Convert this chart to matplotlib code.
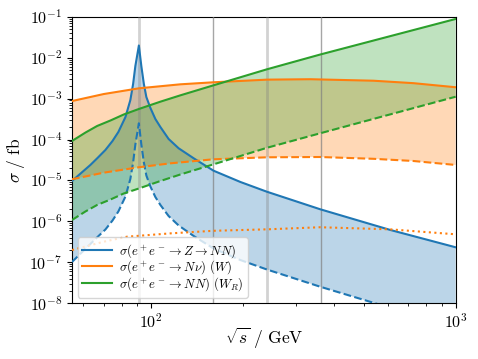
import numpy as np
import matplotlib
matplotlib.use("Agg")
import matplotlib.pyplot as plt
from matplotlib.ticker import FuncFormatter, LogLocator, NullFormatter

plt.rcParams['mathtext.fontset'] = 'cm'
plt.rcParams['font.family'] = ['DejaVu Serif']

# ---- data (sqrt(s) in GeV, sigma in fb) ----
z_up_s = [55, 63.2, 66.7, 70.8, 74.7, 78.1, 82.4, 85.5, 87.3, 88.8, 91.19,
          92.9, 94.7, 96.5, 99.5, 103.3, 107.3, 114.2, 123.2, 138.0, 160.4, 196.3, 240.1, 359, 609, 1000]
z_up_sig = [9.7e-6, 2.39e-5, 3.54e-5, 5.55e-5, 9.2e-5, 1.53e-4, 3.55e-4, 9.2e-4, 2.27e-3, 6.25e-3, 1.98e-2,
            6.25e-3, 2.27e-3, 1.09e-3, 5.89e-4, 3.17e-4, 2.02e-4, 1.03e-4, 6.1e-5, 3.48e-5, 1.73e-5,
            9.2e-6, 5.3e-6, 1.98e-6, 6.2e-7, 2.33e-7]

z_lo_s = [55, 63.2, 66.7, 70.8, 74.7, 78.1, 82.4, 85.5, 87.3, 88.8, 91.19,
          92.9, 94.7, 96.5, 99.5, 103.3, 107.3, 114.2, 123.2, 138.0, 160.4, 196.3, 240.1, 359, 530, 1000]
z_lo_sig = [1.02e-7, 2.81e-7, 4.16e-7, 6.34e-7, 1.05e-6, 1.75e-6, 4.06e-6, 1.09e-5, 2.75e-5, 7.55e-5, 2.49e-4,
            7.55e-5, 2.75e-5, 1.32e-5, 7.1e-6, 3.94e-6, 2.52e-6, 1.35e-6, 7.94e-7, 4.40e-7, 2.18e-7,
            1.14e-7, 6.68e-8, 2.54e-8, 1.06e-8, 2.5e-9]

w_up_s = [55, 69.9, 91.19, 124.8, 160.4, 240.1, 333, 537, 726, 1000]
w_up_sig = [8.7e-4, 1.29e-3, 1.78e-3, 2.23e-3, 2.50e-3, 2.90e-3, 2.97e-3, 2.73e-3, 2.38e-3, 1.89e-3]

w_lo_s = [55, 69.9, 91.19, 115.7, 160.4, 240.1, 359, 537, 726, 1000]
w_lo_sig = [1.07e-5, 1.55e-5, 2.1e-5, 2.62e-5, 3.29e-5, 3.68e-5, 3.74e-5, 3.38e-5, 2.99e-5, 2.39e-5]

w_dot_s = [55, 69.9, 83.4, 115.7, 160.4, 240.1, 359, 609, 1000]
w_dot_sig = [2.0e-7, 3.19e-7, 4.23e-7, 5.1e-7, 5.9e-7, 6.4e-7, 7.2e-7, 6.4e-7, 4.84e-7]

wr_up_s = [55, 60.9, 66.5, 73.6, 81.3, 91.19, 107.3, 124.8, 160.4, 240.1, 359, 1000]
wr_up_sig = [9.2e-5, 1.48e-4, 2.14e-4, 2.92e-4, 4.08e-4, 5.57e-4, 8.4e-4, 1.20e-3, 2.11e-3,
             5.19e-3, 1.19e-2, 8.8e-2]

wr_lo_s = [55, 60.9, 66.5, 73.6, 81.3, 91.19, 107.3, 124.8, 160.4, 240.1, 359, 1000]
wr_lo_sig = [1.08e-6, 1.75e-6, 2.52e-6, 3.43e-6, 4.80e-6, 6.37e-6, 9.7e-6, 1.40e-5, 2.48e-5,
             6.28e-5, 1.42e-4, 1.11e-3]

vlines_light = [91.19, 240]
vlines_dark = [160, 360]

labels = [r'$\sigma(e^+e^- \to Z \to NN)$',
          r'$\sigma(e^+e^- \to N\nu)\ (W)$',
          r'$\sigma(e^+e^- \to NN)\ (W_R)$']

# ---- plot ----
fig = plt.figure(figsize=(4.78, 3.59), dpi=100)
ax = fig.add_axes([0.1506, 0.1552, 0.8027, 0.7983])
ax.set_xscale('log')
ax.set_yscale('log')

for v in vlines_light:
    ax.axvline(v, color='gray', alpha=0.35, lw=2, zorder=3)
for v in vlines_dark:
    ax.axvline(v, color='gray', alpha=0.7, lw=1, zorder=3)

cols = ['#1f77b4', '#ff7f0e', '#2ca02c']
series = [(z_up_s, z_up_sig, z_lo_s, z_lo_sig),
          (w_up_s, w_up_sig, w_lo_s, w_lo_sig),
          (wr_up_s, wr_up_sig, wr_lo_s, wr_lo_sig)]

for (us, uy, ls, ly), c in zip(series, cols):
    px = np.concatenate([us, ls[::-1]])
    py = np.concatenate([uy, ly[::-1]])
    ax.fill(px, py, color=c, alpha=0.3, lw=0, zorder=1)
for (us, uy, ls, ly), c, lab in zip(series, cols, labels):
    ax.plot(us, uy, color=c, lw=1.5, label=lab, zorder=4)
    ax.plot(ls, ly, color=c, lw=1.5, ls='--', zorder=4)
ax.plot(w_dot_s, w_dot_sig, color=cols[1], lw=1.5, ls=':', zorder=4)

ax.set_xlim(55, 1000)
ax.set_ylim(1e-8, 1e-1)

fmt = FuncFormatter(lambda v, p: r'$10^{%d}$' % int(round(np.log10(v))))
ax.xaxis.set_major_locator(LogLocator(base=10, numticks=10))
ax.xaxis.set_major_formatter(fmt)
ax.xaxis.set_minor_locator(LogLocator(base=10, subs=np.arange(2, 10), numticks=20))
ax.xaxis.set_minor_formatter(NullFormatter())
ax.yaxis.set_major_locator(LogLocator(base=10, numticks=20))
ax.yaxis.set_major_formatter(fmt)
ax.yaxis.set_minor_locator(LogLocator(base=10, subs=np.arange(2, 10), numticks=20))
ax.yaxis.set_minor_formatter(NullFormatter())
ax.tick_params(labelsize=11.5)

ax.set_xlabel(r'$\sqrt{s}\ /\ \mathrm{GeV}$', fontsize=12.5)
ax.set_ylabel(r'$\sigma\ /\ \mathrm{fb}$', fontsize=12.5)
ax.xaxis.set_label_coords(0.5, -0.08)
ax.yaxis.set_label_coords(-0.118, 0.5)

ax.legend(loc='lower left', fontsize=9.2, labelspacing=-0.08, handlelength=2.3,
          handletextpad=0.6, borderpad=0.35, borderaxespad=0.45)

fig.savefig('out.png', dpi=100)
